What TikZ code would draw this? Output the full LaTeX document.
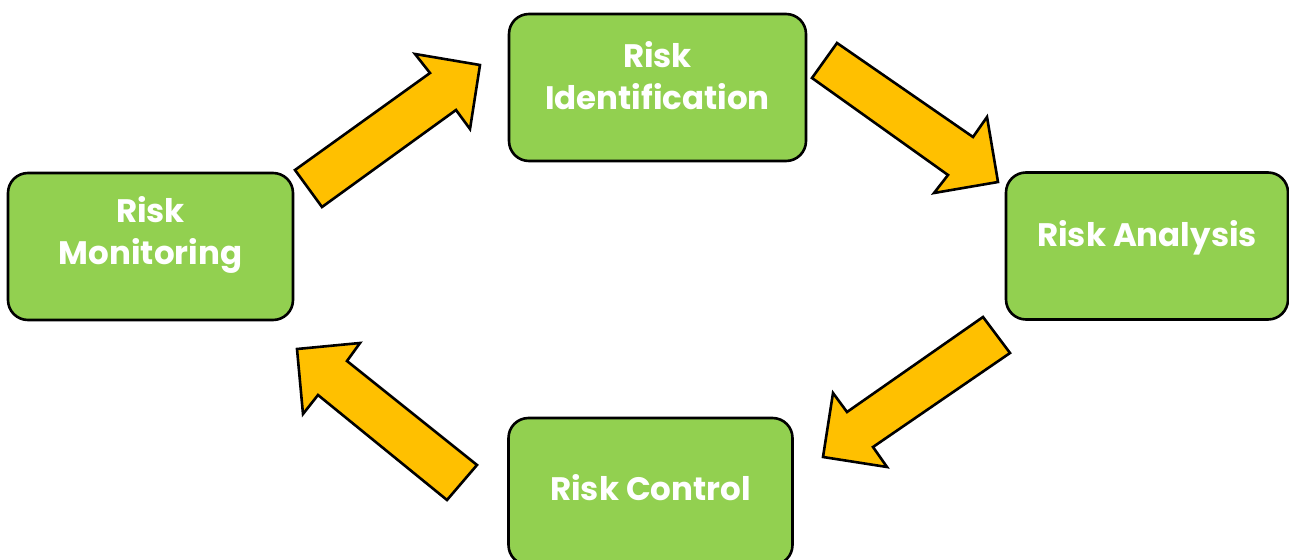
\documentclass[tikz,border=0pt]{standalone}
\usepackage{fontspec}
\setmainfont{Poppins}
\begin{document}
\begin{tikzpicture}[x=1pt,y=-1pt,
  stagebox/.style={draw=black,line width=2.6pt,fill=stagegreen,rounded corners=20pt,
    minimum width=#1,minimum height=147pt,inner sep=0pt},
  stagetext/.style={text=white,font=\bfseries\fontsize{32.5}{42}\selectfont,align=center,inner sep=0pt},
  flowarrow/.style={draw=black,line width=2.6pt,fill=flowyellow,line join=miter}]
\definecolor{stagegreen}{HTML}{92D050}
\definecolor{flowyellow}{HTML}{FFC000}
\useasboundingbox (0,0) rectangle (1289,559);
\clip (0,0) rectangle (1289,559);

% process stages
\node[stagebox=285pt] (mon) at (150.5,246.5) {};
\node[stagebox=297pt] (ident) at (657.5,87.5) {};
\node[stagebox=282pt] (ana) at (1147,246) {};
\node[stagebox=284pt] (ctl) at (650.5,491.5) {};

\node[stagetext] (montxt) at ([yshift=12pt]mon.center) {Risk\\Monitoring};
\node[stagetext] (identtxt) at ([yshift=12pt]ident.center) {Risk\\Identification};
\node[stagetext] (anatxt) at ([yshift=8pt]ana.center) {Risk Analysis};
\node[stagetext] (ctltxt) at ([yshift=4pt]ctl.center) {Risk Control};

% block arrows between the stages
\draw[flowarrow] (295,170) -- (430,73) -- (415,54) -- (480,65) -- (470,129)
  -- (456,110) -- (322,207) -- cycle;
\draw[flowarrow] (837,43) -- (973,137) -- (987,117) -- (998,182) -- (934,193)
  -- (948,175) -- (812,78) -- cycle;
\draw[flowarrow] (983,317) -- (847,412) -- (833,393) -- (823,457) -- (887,467)
  -- (873,447) -- (1010,353) -- cycle;
\draw[flowarrow] (477,465) -- (347,361) -- (360,343) -- (297,349) -- (303,414)
  -- (318,395) -- (447,500) -- cycle;
\end{tikzpicture}
\end{document}
